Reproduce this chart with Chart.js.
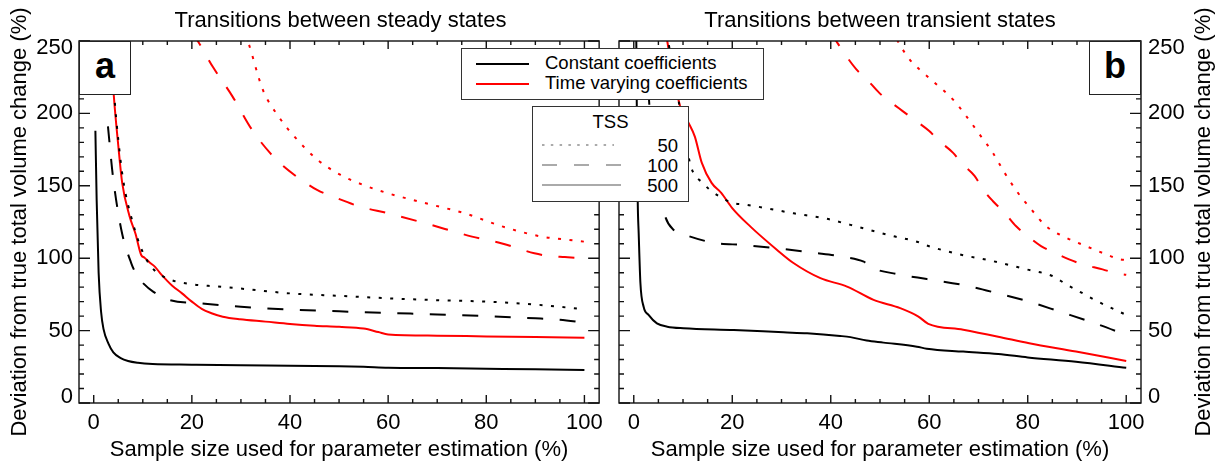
<!DOCTYPE html>
<html>
<head>
<meta charset="utf-8">
<script src="https://cdn.jsdelivr.net/npm/chart.js@4.4.1/dist/chart.umd.min.js"></script>
<style>
body { margin:0; background:#fff; }
#wrap { position:relative; width:1220px; height:467px; font-family:"Liberation Sans", Arial, sans-serif; color:#000; overflow:hidden; }
canvas { position:absolute; top:0; }
.ttl { position:absolute; top:7px; height:26px; line-height:26px; font-size:22px; text-align:center; white-space:nowrap; }
.ytl { position:absolute; left:983px; top:209px; width:440px; height:26px; line-height:26px; font-size:22px; text-align:center; white-space:nowrap; transform:rotate(-90deg); }
.tag { position:absolute; top:41px; width:52px; height:54px; box-sizing:border-box; border:1px solid #222; background:#fff; font-weight:bold; font-size:36px; line-height:47px; text-align:center; }
.box { position:absolute; box-sizing:border-box; border:1px solid #333; background:#fff; font-size:18.5px; }
.box span { position:absolute; white-space:nowrap; line-height:20px; }
.box svg { position:absolute; overflow:visible; height:4px; }
</style>
</head>
<body>
<div id="wrap">
  <canvas id="chartA" width="610" height="467" style="left:0"></canvas>
  <canvas id="chartB" width="610" height="467" style="left:610px"></canvas>
  <div class="ttl" style="left:79px;width:523px">Transitions between steady states</div>
  <div class="ttl" style="left:619px;width:522px">Transitions between transient states</div>
  <div class="ytl">Deviation from true total volume change (%)</div>
  <div class="tag" style="left:79px">a</div>
  <div class="tag" style="left:1089px">b</div>
  <div class="box" style="left:461px;top:48px;width:303px;height:52px">
    <svg style="left:14px;top:13px;width:53px"><line x1="0" y1="2" x2="53" y2="2" stroke="#000" stroke-width="2"/></svg>
    <span style="left:83px;top:4px">Constant coefficients</span>
    <svg style="left:14px;top:33px;width:53px"><line x1="0" y1="2" x2="53" y2="2" stroke="#ff0000" stroke-width="2"/></svg>
    <span style="left:83px;top:24px">Time varying coefficients</span>
  </div>
  <div class="box" style="left:532px;top:106px;width:157px;height:96px">
    <span style="left:0;width:155px;text-align:center;top:5px">TSS</span>
    <svg style="left:9px;top:36px;width:72px"><line x1="0" y1="2" x2="72" y2="2" stroke="#aaa" stroke-width="2" stroke-dasharray="2.5 6.3"/></svg>
    <span style="right:10px;top:29px">50</span>
    <svg style="left:9px;top:56px;width:79px"><line x1="0" y1="2" x2="79" y2="2" stroke="#aaa" stroke-width="2" stroke-dasharray="15 17"/></svg>
    <span style="right:10px;top:49px">100</span>
    <svg style="left:9px;top:76px;width:79px"><line x1="0" y1="2" x2="79" y2="2" stroke="#aaa" stroke-width="2"/></svg>
    <span style="right:10px;top:69px">500</span>
  </div>
</div>
<script>
// panel a - transitions between steady states
var aConst500X = [0.34, 0.6, 1.0, 1.5, 2, 3, 4, 5.5, 7, 9, 12, 20, 30, 40, 50, 55, 60, 70, 80, 90, 100];
var aConst500Y = [188, 140, 90, 63, 51, 41, 35, 31, 29, 27.8, 27, 26.5, 26, 25.8, 25.4, 25, 24.4, 24.1, 23.7, 23.3, 22.8];
var aConst100X = [2.9, 3.9, 5.6, 7.6, 9, 10.1, 12.1, 15.6, 22, 30, 40, 50, 60, 70, 80, 90, 95, 100];
var aConst100Y = [191, 157, 120, 97, 87, 82.6, 76.9, 71, 68.8, 66.5, 64.5, 63.3, 62.2, 61.2, 60, 58.5, 57.5, 55.5];
var aConst50X = [3.4, 4.2, 5, 6, 8, 10, 12, 15, 20, 25, 30, 40, 50, 60, 70, 80, 90, 100];
var aConst50Y = [255, 212, 182, 154, 124, 104, 93, 86, 82, 80.5, 79, 75.7, 74, 72.3, 71, 70, 68, 64.7];
var aTv500X = [3.2, 4.1, 5.0, 5.8, 7.3, 8.5, 9.7, 10.3, 11.4, 12.5, 13.7, 14.8, 16, 18, 20, 22, 24, 26.3, 29.8, 35, 40, 45, 50, 55, 58, 60, 70, 80, 90, 100];
var aTv500Y = [262, 212, 178, 152, 129, 117, 102, 100.5, 97, 94, 89, 85, 81, 75.7, 70, 65, 62, 59.6, 57.8, 56.2, 54.6, 53.4, 52.6, 51.4, 49, 47.3, 46.5, 46, 45.6, 45.1];
var aTv100X = [20, 21.2, 24.3, 28.3, 32.2, 36.1, 38.5, 40.9, 43, 45.6, 49.5, 54.3, 60, 67.7, 77.1, 83.4, 89.8, 92.9, 96, 100];
var aTv100Y = [256, 250, 232, 211.6, 189, 172, 164, 157.5, 152.5, 147, 141.5, 135.6, 131, 124, 114.9, 110, 103.4, 101.5, 100.8, 99.9];
var aTv50X = [30, 31.4, 34.5, 37.7, 40.9, 45.6, 50.3, 55, 59.8, 67.7, 75.6, 83.4, 91.3, 96, 100];
var aTv50Y = [262, 250, 216, 197.7, 184, 168, 157.5, 150.5, 145, 137.9, 131, 121.8, 114.9, 113, 111.4];

// panel b - transitions between transient states
var bConst500X = [0.45, 0.6, 0.8, 1.0, 1.35, 2.0, 3.0, 4.7, 6.8, 10.1, 20.3, 30.4, 35.2, 41.9, 44, 47.3, 50.7, 57.5, 59.5, 66.9, 74, 80, 89.8, 100];
var bConst500Y = [280, 210, 140, 117, 82.7, 66.5, 60.8, 55, 52.7, 51.6, 50.4, 48.8, 48.1, 46.3, 45.5, 43.1, 41.7, 38.9, 37.5, 35.5, 33.8, 31.5, 28.5, 24.4];
var bConst100X = [2.5, 3.0, 4.0, 5.0, 5.7, 6.4, 8.1, 10.5, 16.2, 22.3, 29.1, 36.5, 42.6, 46.7, 48.7, 53.4, 59.5, 66.9, 74, 80.3, 86.6, 93.7, 100];
var bConst100Y = [262, 215, 178, 152, 140, 128.7, 119.5, 116, 110.7, 109.1, 106.8, 103.8, 101, 97.6, 93, 89.1, 85.6, 81.5, 75.7, 70, 63, 55, 47];
var bConst50X = [6.8, 8, 9.3, 10.3, 11.4, 12.1, 14, 15.2, 17.2, 20.3, 22.7, 32.5, 39.1, 44, 52.6, 57.5, 59.4, 66.1, 72.9, 79.7, 85, 87.8, 90.5, 93.7, 100];
var bConst50Y = [255, 228, 205, 185, 166, 159, 152, 148, 143, 138, 137, 131, 127.3, 123, 115.3, 111.4, 108.9, 102.7, 98, 92.3, 87.7, 82, 77, 71, 60.8];
var bTv500X = [6.5, 6.8, 8, 9.4, 11.1, 12.4, 13.8, 15.8, 17.8, 19.9, 23.7, 29.1, 32.5, 37.9, 43.3, 48.7, 54.1, 57.8, 59.8, 66.9, 74, 80.3, 89.8, 100];
var bTv500Y = [258, 250, 228, 205, 193.6, 184, 166, 152, 145, 135, 121.8, 105.7, 96.5, 86.2, 80.4, 71.2, 65.5, 59.7, 54.7, 50.6, 45.8, 41.2, 35.5, 29];
var bTv100X = [40, 41.1, 45.2, 47.2, 49.9, 51.9, 54.6, 57.3, 60, 62, 64.8, 66.8, 69.2, 70.9, 72.9, 75.3, 77.6, 80, 82.7, 85.4, 88.4, 91.1, 95.2, 97.9, 100];
var bTv100Y = [256, 250, 230.4, 224, 214, 208.5, 201.6, 194.8, 187.8, 181, 172.9, 164.8, 156.8, 147.6, 139.5, 131.4, 122.2, 115.3, 108.4, 103.8, 99.2, 95.8, 92.3, 89.6, 88.5];
var bTv50X = [52.5, 53.6, 56, 58, 61.1, 64.8, 67.5, 70.2, 72.9, 75.3, 78, 80.7, 83.7, 87.8, 91.8, 95.9, 98.2, 100];
var bTv50Y = [258, 250, 237.3, 230.4, 221.2, 209.7, 198.2, 185.6, 172.9, 159, 145.2, 133.8, 122.2, 114.2, 108.4, 102.7, 99.7, 98.5];

var xTitle = 'Sample size used for parameter estimation (%)';
var yTitle = 'Deviation from true total volume change (%)';

var DOT = [3, 8.5], DASH = [16, 16.5], SOLID = [];
var FONT = '"Liberation Sans", Arial, sans-serif';
Chart.defaults.font.family = FONT;
Chart.defaults.color = '#000';

function series(xs, ys, color, dash){
  return {
    data: xs.map(function(x, i){ return {x: x, y: ys[i]}; }),
    borderColor: color, borderWidth: 2, borderDash: dash,
    pointRadius: 0, fill: false, cubicInterpolationMode: 'monotone'
  };
}

// box round the plot, ticks pointing inwards, y labels kept inside the frame
var frame = {
  id: 'frame',
  afterDraw: function(chart){
    var ctx = chart.ctx, a = chart.chartArea, x = chart.scales.x, y = chart.scales.y;
    ctx.save();
    ctx.strokeStyle = '#111';
    ctx.lineWidth = 1.4;
    ctx.beginPath();
    for (var v = 0; v <= 100; v += 5){
      var px = x.getPixelForValue(v), len = v % 20 === 0 ? 8 : 4;
      ctx.moveTo(px, a.bottom); ctx.lineTo(px, a.bottom - len);
      ctx.moveTo(px, a.top); ctx.lineTo(px, a.top + len);
    }
    for (var w = 0; w <= 250; w += 10){
      var py = y.getPixelForValue(w), l = w % 50 === 0 ? 11 : 5;
      ctx.moveTo(a.left, py); ctx.lineTo(a.left + l, py);
      ctx.moveTo(a.right, py); ctx.lineTo(a.right - l, py);
    }
    ctx.stroke();
    ctx.strokeRect(a.left, a.top, a.right - a.left, a.bottom - a.top);
    var right = y.position === 'right';
    ctx.fillStyle = '#000';
    ctx.font = '22px ' + FONT;
    ctx.textBaseline = 'middle';
    ctx.textAlign = right ? 'left' : 'right';
    y.ticks.forEach(function(t){
      var p = Math.min(Math.max(y.getPixelForValue(t.value), a.top + 7), a.bottom - 6);
      ctx.fillText(String(t.value), right ? a.right + 7 : a.left - 6, p);
    });
    ctx.restore();
  }
};

function panel(id, side, datasets){
  var left = side === 'left';
  new Chart(document.getElementById(id), {
    type: 'line',
    data: {datasets: datasets},
    plugins: [frame],
    options: {
      responsive: false,
      animation: false,
      layout: {padding: left ? {top: 41, right: 8, left: 0, bottom: 0} : {top: 41, right: 0, left: 9, bottom: 0}},
      plugins: {legend: {display: false}, tooltip: {enabled: false}},
      scales: {
        x: {
          type: 'linear', min: -3, max: 103,
          ticks: {stepSize: 20, includeBounds: false, font: {size: 22}, padding: 7, maxRotation: 0, autoSkip: false},
          grid: {display: false, drawTicks: false}, border: {display: false},
          title: {display: true, text: xTitle, font: {size: 22}, padding: {top: 0, bottom: 4}},
          afterFit: function(s){ s.height = 64; }
        },
        y: {
          type: 'linear', min: 0, max: 250, position: side,
          ticks: {stepSize: 50, display: false},
          grid: {display: false, drawTicks: false}, border: {display: false},
          title: {display: left, text: yTitle, font: {size: 22}, padding: {top: 7, bottom: 0}},
          afterFit: function(s){ s.width = 79; }
        }
      }
    }
  });
}

panel('chartA', 'left', [
  series(aTv100X, aTv100Y, '#ff0000', DASH),
  series(aTv50X, aTv50Y, '#ff0000', DOT),
  series(aConst50X, aConst50Y, '#000', DOT),
  series(aConst100X, aConst100Y, '#000', DASH),
  series(aConst500X, aConst500Y, '#000', SOLID),
  series(aTv500X, aTv500Y, '#ff0000', SOLID)
]);
panel('chartB', 'right', [
  series(bTv100X, bTv100Y, '#ff0000', DASH),
  series(bTv50X, bTv50Y, '#ff0000', DOT),
  series(bConst50X, bConst50Y, '#000', DOT),
  series(bConst100X, bConst100Y, '#000', DASH),
  series(bConst500X, bConst500Y, '#000', SOLID),
  series(bTv500X, bTv500Y, '#ff0000', SOLID)
]);
</script>
</body>
</html>
